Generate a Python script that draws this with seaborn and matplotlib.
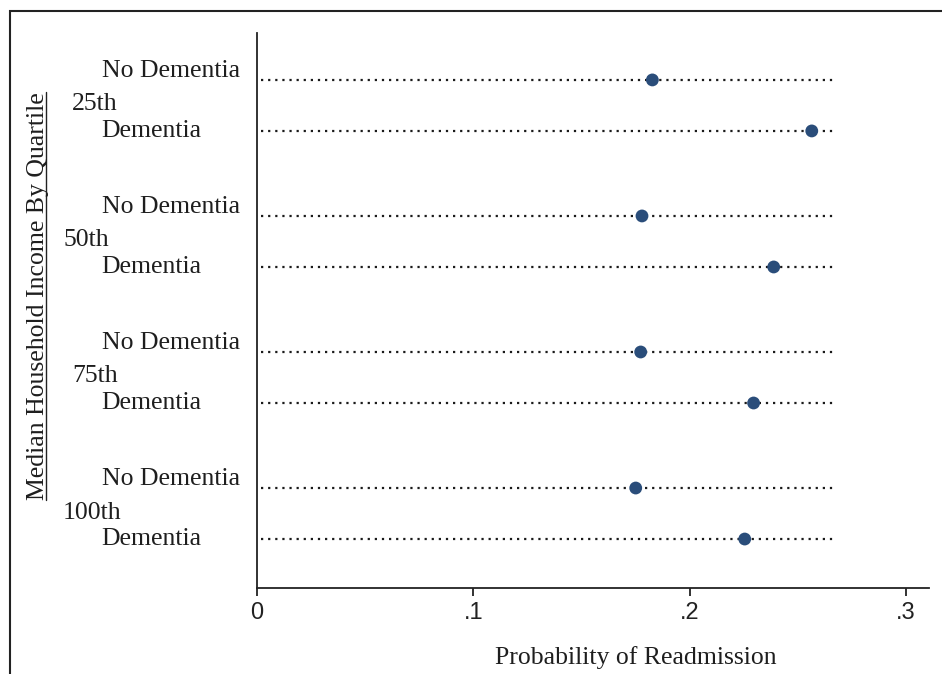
import numpy as np
import pandas as pd
import matplotlib
matplotlib.use('Agg')
import matplotlib.pyplot as plt
import seaborn as sns
from matplotlib.patches import Rectangle
from matplotlib.lines import Line2D

# ---- data ----
quartiles = ['25th', '50th', '75th', '100th']
statuses = ['No Dementia', 'Dementia']
prob_no_dementia = [0.1828, 0.1780, 0.1774, 0.1751]
prob_dementia = [0.2565, 0.2389, 0.2296, 0.2255]
x_ticks = [0, 0.1, 0.2, 0.3]
x_tick_labels = ['0', '.1', '.2', '.3']
line_end = 0.267
x_label = 'Probability of Readmission'
y_label = 'Median Household Income By Quartile'

GROUP_STEP = 136 / 51
rows = []
for g, q in enumerate(quartiles):
    for s, (st, val) in enumerate(zip(statuses, [prob_no_dementia[g], prob_dementia[g]])):
        rows.append(dict(quartile=q, status=st, prob=val, pos=g * GROUP_STEP + s))
df = pd.DataFrame(rows)

sns.set_theme(style='white')
plt.rcParams['font.family'] = ['Liberation Serif', 'DejaVu Serif']

W, H = 942, 674
fig = plt.figure(figsize=(W / 100, H / 100), dpi=100)
fig.patch.set_facecolor('white')
ax = fig.add_axes([257 / W, 1 - 588 / H, (929 - 257) / W, (588 - 33) / H])

ax.hlines(df['pos'], 0.002, line_end, colors='#1a1a1a', linestyles=(0, (1, 2.2)),
          linewidth=1.6, zorder=1)
sns.scatterplot(data=df, x='prob', y='pos', ax=ax, color='#2a4d7a', s=85,
                edgecolor='none', linewidth=0, zorder=3, legend=False)

ax.set_xlim(0, 0.3107)
ax.set_ylim(df['pos'].max() + 0.96, -0.92)
ax.set_xticks(x_ticks)
ax.set_xticklabels(x_tick_labels, family=['Liberation Sans Narrow', 'Liberation Sans', 'DejaVu Sans'],
                   fontsize=17, color='#222222')
ax.set_yticks([])
ax.tick_params(axis='x', bottom=True, length=6, width=1.3, direction='out', pad=4, color='#222222')
for side in ['top', 'right']:
    ax.spines[side].set_visible(False)
for side in ['left', 'bottom']:
    ax.spines[side].set_color('#222222')
    ax.spines[side].set_linewidth(1.3)
ax.set_xlabel('')
ax.set_ylabel('')
ax.set_facecolor('white')

# row labels
tr = ax.get_yaxis_transform()
for _, r in df.iterrows():
    off = -0.18 if r['status'] == statuses[0] else 0.0
    ax.text((101.7 - 257) / 672, r['pos'] + off, r['status'], transform=tr,
            ha='left', va='center', fontsize=18.5, color='#1e1e1e', clip_on=False)
group_left_px = [72, 63, 72, 63]
for g, q in enumerate(quartiles):
    ax.text((group_left_px[g] - 257) / 672, g * GROUP_STEP + 0.48, q, transform=tr,
            ha='left', va='center', fontsize=18.5, color='#1e1e1e', clip_on=False)

# axis titles
fig.text(636 / W, 1 - 658 / H, x_label, ha='center', va='center', fontsize=18.5, color='#1e1e1e')
yl = fig.text(38 / W, 1 - 296 / H, y_label, ha='center', va='center', rotation=90,
              fontsize=18.5, color='#1e1e1e')

# outer frame (cropped)
fig.add_artist(Rectangle((10 / W, -0.1), 1.2, 1 - 11 / H + 0.1, transform=fig.transFigure,
                         fill=False, edgecolor='#222222', linewidth=1.5))

# underline for y title
fig.canvas.draw()
bb = yl.get_window_extent(fig.canvas.get_renderer())
ux = bb.x1 - 0.11 * 18.5 * 100 / 72
fig.add_artist(Line2D([ux / W, ux / W], [bb.y0 / H, bb.y1 / H], transform=fig.transFigure,
                      color='#222222', linewidth=1.0))

fig.savefig('out.png', dpi=100, facecolor='white')
